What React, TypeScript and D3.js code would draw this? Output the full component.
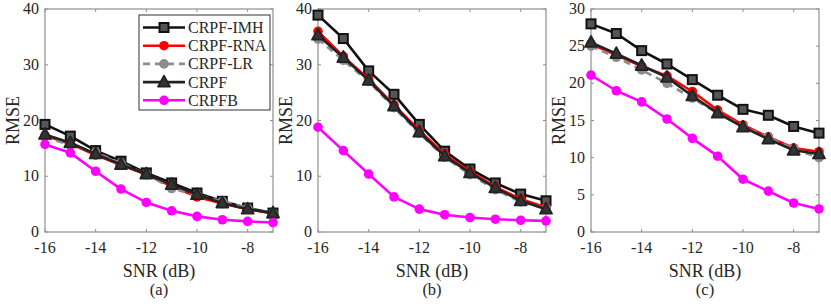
import * as d3 from "d3";
import { useEffect, useRef } from "react";

// SNR values (x)
const snr = [-16, -15, -14, -13, -12, -11, -10, -9, -8, -7];
const xTicks = [-16, -14, -12, -10, -8];

// panel (a)
const aIMH = [19.3, 17.2, 14.6, 12.7, 10.6, 8.8, 7.0, 5.5, 4.3, 3.4];
const aRNA = [17.3, 15.8, 13.8, 12.0, 10.3, 8.2, 6.3, 5.1, 4.1, 3.3];
const aLR = [17.0, 15.6, 14.3, 12.3, 10.4, 7.8, 6.6, 5.5, 4.3, 3.4];
const aCRPF = [17.5, 16.0, 14.0, 12.1, 10.4, 8.5, 6.7, 5.2, 4.1, 3.4];
const aCRPFB = [15.7, 14.2, 10.9, 7.7, 5.3, 3.8, 2.8, 2.2, 1.9, 1.7];

// panel (b)
const bIMH = [38.9, 34.7, 28.9, 24.7, 19.3, 14.5, 11.3, 8.8, 6.8, 5.6];
const bRNA = [36.0, 31.5, 27.4, 22.8, 18.2, 13.9, 10.9, 8.1, 5.9, 4.4];
const bLR = [34.6, 30.8, 27.0, 22.3, 17.7, 13.4, 10.3, 7.6, 5.4, 4.2];
const bCRPF = [35.3, 31.3, 27.2, 22.6, 17.9, 13.6, 10.6, 7.9, 5.6, 4.1];
const bCRPFB = [18.8, 14.6, 10.4, 6.3, 4.1, 3.1, 2.6, 2.3, 2.1, 2.0];

// panel (c)
const cIMH = [28.0, 26.7, 24.4, 22.6, 20.5, 18.4, 16.5, 15.7, 14.2, 13.3];
const cRNA = [25.3, 23.8, 22.3, 21.0, 18.9, 16.4, 14.4, 12.8, 11.3, 10.8];
const cLR = [25.0, 23.5, 21.8, 20.0, 18.0, 16.0, 14.2, 12.7, 11.2, 10.0];
const cCRPF = [25.5, 24.0, 22.4, 20.8, 18.3, 16.0, 14.1, 12.5, 11.0, 10.5];
const cCRPFB = [21.1, 19.0, 17.5, 15.2, 12.6, 10.2, 7.1, 5.5, 3.9, 3.1];

const names = ["CRPF-IMH", "CRPF-RNA", "CRPF-LR", "CRPF", "CRPFB"];

const styles = [
  { color: "#111111", marker: "square", dash: null },
  { color: "#ff0000", marker: "circle", dash: null },
  { color: "#8c8c8c", marker: "circle", dash: "7,5" },
  { color: "#222222", marker: "triangle", dash: null },
  { color: "#ff00ff", marker: "circle", dash: null },
];

const panels = [
  { left: 45, yMax: 40, yTicks: [0, 10, 20, 30, 40], label: "(a)", series: [aIMH, aRNA, aLR, aCRPF, aCRPFB], legend: true },
  { left: 318, yMax: 40, yTicks: [0, 10, 20, 30, 40], label: "(b)", series: [bIMH, bRNA, bLR, bCRPF, bCRPFB], legend: false },
  { left: 591, yMax: 30, yTicks: [0, 5, 10, 15, 20, 25, 30], label: "(c)", series: [cIMH, cRNA, cLR, cCRPF, cCRPFB], legend: false },
];

const W = 831, H = 304;
const plotW = 228, top = 9, bottom = 232;
const font = "'Liberation Serif', 'Times New Roman', serif";
const axisColor = "#8f8f8f";
const textColor = "#262626";

const drawMarker = (g, type, x, y, color) => {
  if (type === "square") {
    g.append("rect")
      .attr("x", x - 4.5).attr("y", y - 4.5)
      .attr("width", 9).attr("height", 9)
      .attr("fill", "#555").attr("stroke", color).attr("stroke-width", 2);
  } else if (type === "triangle") {
    g.append("path")
      .attr("d", `M${x},${y - 6.5}L${x + 6},${y + 4.5}L${x - 6},${y + 4.5}Z`)
      .attr("fill", "#333").attr("stroke", color).attr("stroke-width", 1.8)
      .attr("stroke-linejoin", "round");
  } else {
    g.append("circle")
      .attr("cx", x).attr("cy", y).attr("r", 4.8)
      .attr("fill", color);
  }
};

const App = () => {
  const ref = useRef(null);

  useEffect(() => {
    const svg = d3.select(ref.current);
    svg.selectAll("*").remove();

    panels.forEach((p) => {
      const x = d3.scaleLinear().domain([-16, -7]).range([p.left, p.left + plotW]);
      const y = d3.scaleLinear().domain([0, p.yMax]).range([bottom, top]);
      const g = svg.append("g");

      // frame
      g.append("rect")
        .attr("x", p.left).attr("y", top)
        .attr("width", plotW).attr("height", bottom - top)
        .attr("fill", "white").attr("stroke", axisColor).attr("stroke-width", 1.2);

      // x ticks
      xTicks.forEach((t) => {
        g.append("line").attr("x1", x(t)).attr("x2", x(t)).attr("y1", bottom).attr("y2", bottom - 3)
          .attr("stroke", axisColor);
        g.append("line").attr("x1", x(t)).attr("x2", x(t)).attr("y1", top).attr("y2", top + 3)
          .attr("stroke", axisColor);
        g.append("text").attr("x", x(t)).attr("y", bottom + 21)
          .attr("text-anchor", "middle").attr("font-family", font).attr("font-size", 16)
          .attr("fill", textColor).text(t);
      });
      // y ticks
      p.yTicks.forEach((t) => {
        g.append("line").attr("x1", p.left).attr("x2", p.left + 3).attr("y1", y(t)).attr("y2", y(t))
          .attr("stroke", axisColor);
        g.append("line").attr("x1", p.left + plotW).attr("x2", p.left + plotW - 3).attr("y1", y(t)).attr("y2", y(t))
          .attr("stroke", axisColor);
        g.append("text").attr("x", p.left - 6).attr("y", y(t) + 5)
          .attr("text-anchor", "end").attr("font-family", font).attr("font-size", 16)
          .attr("fill", textColor).text(t);
      });

      // lines
      const line = d3.line().x((d, i) => x(snr[i])).y((d) => y(d));
      p.series.forEach((vals, k) => {
        const s = styles[k];
        g.append("path").attr("d", line(vals))
          .attr("fill", "none").attr("stroke", s.color).attr("stroke-width", 2.6)
          .attr("stroke-dasharray", s.dash).attr("stroke-linejoin", "round");
        vals.forEach((v, i) => drawMarker(g, s.marker, x(snr[i]), y(v), s.color));
      });

      // axis labels
      g.append("text").attr("x", p.left + plotW / 2).attr("y", 277)
        .attr("text-anchor", "middle").attr("font-family", font).attr("font-size", 18)
        .attr("fill", textColor).text("SNR (dB)");
      g.append("text").attr("x", p.left + plotW / 2).attr("y", 295)
        .attr("text-anchor", "middle").attr("font-family", font).attr("font-size", 16.5)
        .attr("fill", textColor).text(p.label);
      g.append("text")
        .attr("transform", `translate(${p.left - 26},${(top + bottom) / 2}) rotate(-90)`)
        .attr("text-anchor", "middle").attr("font-family", font).attr("font-size", 18)
        .attr("fill", textColor).text("RMSE");

      if (p.legend) {
        const lg = g.append("g");
        lg.append("rect").attr("x", 139).attr("y", 15).attr("width", 131).attr("height", 95)
          .attr("fill", "white").attr("stroke", "#333").attr("stroke-width", 1);
        names.forEach((n, k) => {
          const s = styles[k];
          const ly = 27.5 + k * 18.2;
          lg.append("line").attr("x1", 143).attr("x2", 185).attr("y1", ly).attr("y2", ly)
            .attr("stroke", s.color).attr("stroke-width", 2.6).attr("stroke-dasharray", s.dash);
          drawMarker(lg, s.marker, 164, ly, s.color);
          lg.append("text").attr("x", 188).attr("y", ly + 5.5)
            .attr("font-family", font).attr("font-size", 16).attr("fill", textColor).text(n);
        });
      }
    });
  }, []);

  return (
    <svg ref={ref} width={W} height={H} style={{ position: "absolute", left: 0, top: 0, background: "white" }} />
  );
};

export default App;
